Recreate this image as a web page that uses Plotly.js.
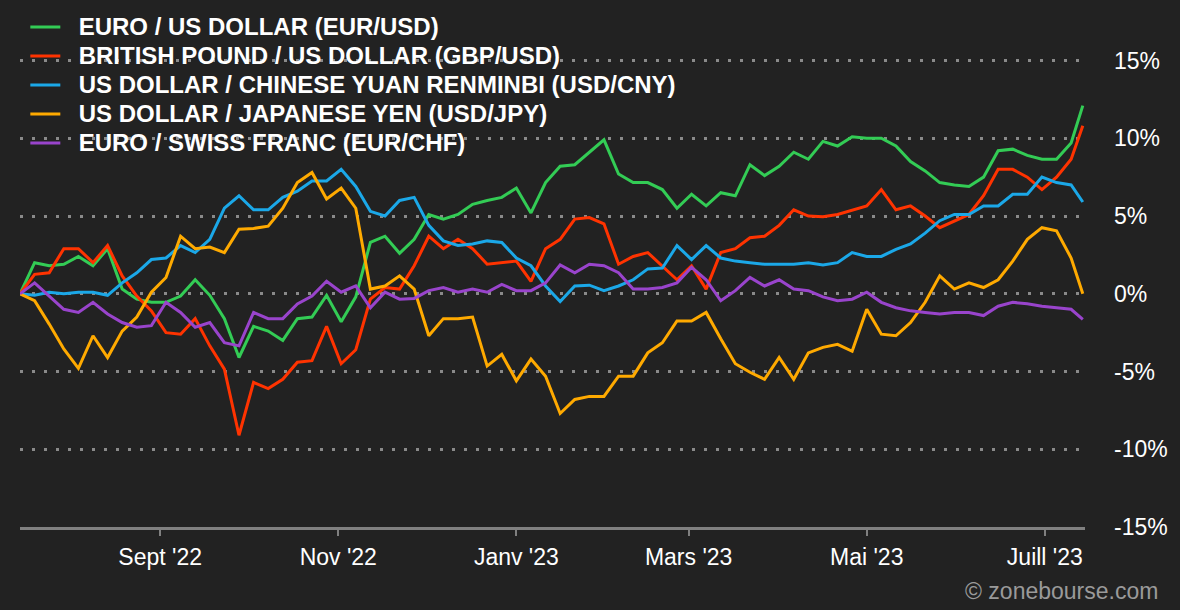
<!DOCTYPE html>
<html>
<head>
<meta charset="utf-8">
<script src="https://cdn.plot.ly/plotly-3.0.1.min.js"></script>
<style>
html, body { margin: 0; padding: 0; background: #222222; }
#chart { width: 1180px; height: 610px; }
</style>
</head>
<body>
<div id="chart"></div>
<script>
// one point every ~5 days (% change since start)
var dates = [
  '2022-07-15','2022-07-20','2022-07-25','2022-07-30','2022-08-04','2022-08-09','2022-08-14','2022-08-19','2022-08-24','2022-08-29',
  '2022-09-03','2022-09-08','2022-09-13','2022-09-18','2022-09-23','2022-09-28','2022-10-03','2022-10-08','2022-10-13','2022-10-18',
  '2022-10-23','2022-10-28','2022-11-02','2022-11-07','2022-11-12','2022-11-17','2022-11-22','2022-11-27','2022-12-02','2022-12-07',
  '2022-12-12','2022-12-17','2022-12-22','2022-12-27','2023-01-01','2023-01-06','2023-01-11','2023-01-16','2023-01-21','2023-01-26',
  '2023-01-31','2023-02-05','2023-02-10','2023-02-15','2023-02-20','2023-02-25','2023-03-02','2023-03-07','2023-03-12','2023-03-17',
  '2023-03-22','2023-03-27','2023-04-01','2023-04-06','2023-04-11','2023-04-16','2023-04-21','2023-04-26','2023-05-01','2023-05-06',
  '2023-05-11','2023-05-16','2023-05-21','2023-05-26','2023-05-31','2023-06-05','2023-06-10','2023-06-15','2023-06-20','2023-06-25',
  '2023-06-30','2023-07-05','2023-07-10','2023-07-14'
];

var eurUsd = [
  0, 2.0, 1.8, 1.9, 2.4, 1.8, 2.9, 0.3, -0.35, -0.55,
  -0.55, -0.15, 0.9, -0.1, -1.6, -4.1, -2.1, -2.4, -3.0, -1.6,
  -1.5, -0.1, -1.8, -0.2, 3.3, 3.7, 2.6, 3.5, 5.1, 4.8,
  5.1, 5.75, 6.0, 6.2, 6.8, 5.2, 7.15, 8.2, 8.3, 9.1,
  9.9, 7.7, 7.15, 7.15, 6.7, 5.5, 6.4, 5.65, 6.5, 6.3,
  8.3, 7.6, 8.2, 9.1, 8.65, 9.8, 9.5, 10.1, 10.0, 10.0,
  9.5, 8.5, 7.9, 7.15, 7.0, 6.9, 7.5, 9.2, 9.3, 8.9,
  8.65, 8.65, 9.7, 12.1
];

var gbpUsd = [
  0, 1.25, 1.35, 2.9, 2.9, 2.0, 3.1, 1.15, -0.15, -1.1,
  -2.5, -2.6, -1.6, -3.35, -4.85, -9.1, -5.7, -6.1, -5.5, -4.4,
  -4.3, -2.1, -4.5, -3.6, -0.35, 0.4, 0.3, 1.8, 3.7, 2.9,
  3.5, 2.9, 1.9, 2.0, 2.1, 0.8, 2.9, 3.5, 4.8, 4.9,
  4.5, 1.9, 2.4, 2.65, 1.8, 0.9, 1.8, 0.3, 2.65, 2.9,
  3.6, 3.7, 4.4, 5.4, 5.0, 4.95, 5.1, 5.4, 5.65, 6.7,
  5.4, 5.65, 5.0, 4.25, 4.7, 5.1, 6.3, 8.0, 8.0, 7.5,
  6.7, 7.5, 8.65, 10.8
];

var usdCny = [
  0, -0.1, 0.1, 0, 0.1, 0.1, -0.1, 0.7, 1.35, 2.2,
  2.3, 3.1, 2.65, 3.5, 5.5, 6.3, 5.4, 5.4, 6.2, 6.6,
  7.25, 7.25, 8.0, 6.9, 5.3, 5.0, 6.0, 6.2, 4.4, 3.4,
  3.1, 3.2, 3.4, 3.3, 2.3, 1.8, 0.5, -0.5, 0.5, 0.55,
  0.2, 0.5, 0.9, 1.6, 1.65, 3.1, 2.2, 3.1, 2.3, 2.1,
  2.0, 1.9, 1.9, 1.9, 2.0, 1.85, 2.0, 2.65, 2.4, 2.4,
  2.85, 3.2, 3.9, 4.7, 5.1, 5.1, 5.65, 5.65, 6.4, 6.4,
  7.5, 7.15, 7.0, 5.9
];

var usdJpy = [
  0, -0.45, -1.95, -3.55, -4.8, -2.7, -4.1, -2.4, -1.5, 0.1,
  1.05, 3.7, 2.9, 3.0, 2.65, 4.15, 4.2, 4.35, 5.5, 7.15,
  7.8, 6.1, 6.8, 5.5, 0.3, 0.5, 1.15, 0.3, -2.7, -1.6,
  -1.6, -1.5, -4.65, -3.9, -5.6, -4.2, -5.3, -7.7, -6.8, -6.6,
  -6.6, -5.3, -5.3, -3.8, -3.15, -1.75, -1.75, -1.2, -2.9, -4.5,
  -5.05, -5.5, -4.1, -5.5, -3.8, -3.45, -3.25, -3.7, -1.0, -2.6,
  -2.7, -1.85, -0.55, 1.15, 0.3, 0.7, 0.4, 0.9, 2.1, 3.5,
  4.25, 4.05, 2.3, 0
];

var eurChf = [
  0, 0.7, -0.15, -1.0, -1.2, -0.55, -1.3, -1.85, -2.15, -2.05,
  -0.55, -1.2, -2.15, -1.85, -3.15, -3.35, -1.2, -1.6, -1.6, -0.65,
  -0.15, 0.8, 0.1, 0.5, -0.9, 0.1, -0.35, -0.3, 0.2, 0.4,
  0.1, 0.3, 0.1, 0.6, 0.2, 0.2, 0.7, 1.85, 1.35, 1.9,
  1.8, 1.35, 0.3, 0.3, 0.4, 0.7, 1.7, 0.9, -0.45, 0.2,
  1.05, 0.5, 0.9, 0.3, 0.2, -0.2, -0.45, -0.35, 0.1, -0.55,
  -0.9, -1.1, -1.2, -1.3, -1.2, -1.2, -1.4, -0.8, -0.55, -0.65,
  -0.8, -0.9, -1.0, -1.65
];

var seriesNames = [
  'EURO / US DOLLAR (EUR/USD)',
  'BRITISH POUND / US DOLLAR (GBP/USD)',
  'US DOLLAR / CHINESE YUAN RENMINBI (USD/CNY)',
  'US DOLLAR / JAPANESE YEN (USD/JPY)',
  'EURO / SWISS FRANC (EUR/CHF)'
];
var seriesColors = ['#33cc55', '#ff3300', '#1ba8e8', '#ffaa00', '#9944cc'];

var xTickVals = ['2022-09-01', '2022-11-01', '2023-01-01', '2023-03-01', '2023-05-01', '2023-07-01'];
var xTickText = ["Sept '22", "Nov '22", "Janv '23", "Mars '23", "Mai '23", "Juill '23"];
var yTickVals = [-15, -10, -5, 0, 5, 10, 15];
var yTickText = ['-15%', '-10%', '-5%', '0%', '5%', '10%', '15%'];

var allSeries = [eurUsd, gbpUsd, usdCny, usdJpy, eurChf];
var data = [];
for (var i = 0; i < allSeries.length; i++) {
    data.push({
        x: dates,
        y: allSeries[i],
        type: 'scatter',
        mode: 'lines',
        // bigger text than legend.font.size so rows stay ~29px apart
        name: '<span style="font-size:24px">\u00a0\u00a0' + seriesNames[i] + '</span>',
        line: {color: seriesColors[i], width: 3}
    });
}

var layout = {
    width: 1180,
    height: 610,
    paper_bgcolor: '#222222',
    plot_bgcolor: '#222222',
    margin: {l: 20, r: 95, t: 5, b: 83},
    font: {family: '"Liberation Sans", Arial, sans-serif', color: '#ffffff', size: 23},
    showlegend: true,
    legend: {
        x: 0.005, y: 0.995, xanchor: 'left', yanchor: 'top',
        bgcolor: 'rgba(0,0,0,0)',
        font: {size: 20, color: '#ffffff', weight: 'bold'},
        itemwidth: 30
    },
    xaxis: {
        type: 'date',
        range: ['2022-07-15', '2023-07-14 18:00'],
        tickvals: xTickVals,
        ticktext: xTickText,
        showgrid: false,
        zeroline: false,
        showline: true,
        linecolor: '#808080',
        linewidth: 3,
        ticks: 'outside',
        ticklen: 6,
        tickwidth: 2,
        tickcolor: '#808080',
        tickfont: {size: 23, color: '#ffffff'},
        ticklabelstandoff: 1
    },
    yaxis: {
        side: 'right',
        range: [-15, 18.57],
        tickvals: yTickVals,
        ticktext: yTickText,
        showgrid: true,
        gridcolor: '#8a8a8a',
        gridwidth: 3,
        griddash: '3px,9px',
        zeroline: false,
        showline: false,
        ticks: '',
        tickfont: {size: 23, color: '#ffffff'},
        ticklabelstandoff: 28
    },
    annotations: [{
        text: '© zonebourse.com',
        xref: 'paper', yref: 'paper',
        x: 1.0704, y: -0.123,
        xanchor: 'right', yanchor: 'middle',
        showarrow: false,
        font: {size: 23, color: '#9a9a9a'}
    }]
};

Plotly.newPlot('chart', data, layout, {staticPlot: true});
</script>
</body>
</html>
